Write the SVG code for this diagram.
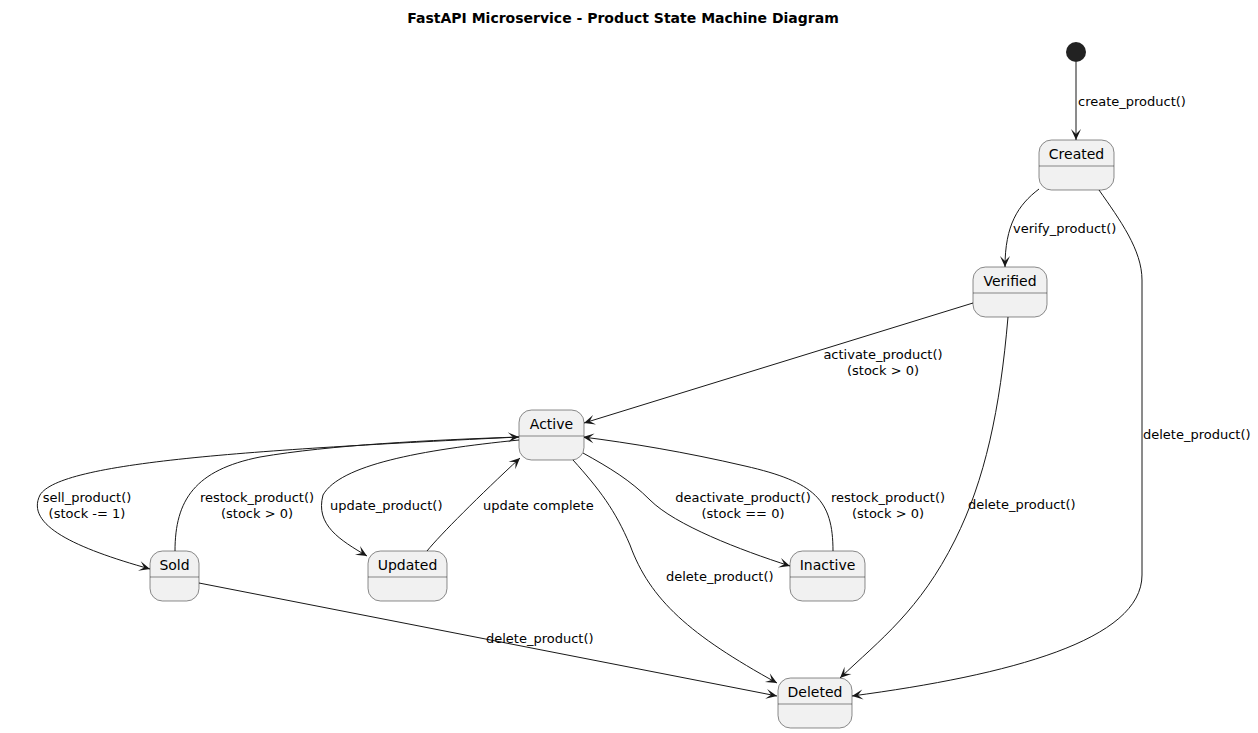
<svg xmlns="http://www.w3.org/2000/svg" width="1258" height="733" viewBox="0 0 1258 733">
<style>
.st rect{fill:#F1F1F1;stroke:#181818;stroke-width:0.5}
.st line{stroke:#181818;stroke-width:0.5}
.st text{font-family:"DejaVu Sans",sans-serif;font-size:14px;fill:#000;text-anchor:middle}
.e path{fill:none;stroke:#181818;stroke-width:1;marker-end:url(#ah)}
.lb{font-family:"DejaVu Sans",sans-serif;font-size:13px;fill:#000}
.c{text-anchor:middle}
.title{font-family:"DejaVu Sans",sans-serif;font-size:14px;font-weight:bold;text-anchor:middle}
</style>
<defs>
<marker id="ah" viewBox="-12 -6 13 12" refX="0" refY="0" markerWidth="13" markerHeight="12" markerUnits="userSpaceOnUse" orient="auto">
<path d="M0,0 L-11,-5 L-6,0 L-11,5 Z" fill="#181818"/>
</marker>
</defs>
<rect width="1258" height="733" fill="#FFFFFF"/>
<text class="title" x="623" y="23">FastAPI Microservice - Product State Machine Diagram</text>

<g id="connectors" class="e">
<path d="M1076,62 L1076,140"/>
<path d="M1039,189 C1018,205 1005,225 1005,267"/>
<path d="M1099,190 C1120,220 1142,250 1142,280 L1142,575 C1142,640 1010,675 852,696"/>
<path d="M973,303 L584,423"/>
<path d="M1008,317 C1000,410 985,480 955,540 C920,610 880,640 840,678"/>
<path d="M519,437 C250,450 60,462 40,495 C25,525 75,548 150,569"/>
<path d="M175,551 C175,500 195,470 260,457 C330,445 430,440 519,437"/>
<path d="M519,440 C420,450 340,465 323,495 C315,525 340,540 367,556"/>
<path d="M427,551 C440,535 480,495 520,458"/>
<path d="M583,453 C610,468 630,480 650,500 C675,525 740,550 790,566"/>
<path d="M833,551 C833,500 815,482 745,466 C685,452 630,443 583,437"/>
<path d="M573,460 C600,490 615,510 630,545 C650,600 690,635 777,683"/>
<path d="M199,583 L777,696"/>
</g>

<g id="labels">
<text class="lb" x="1078" y="106">create_product()</text>
<text class="lb" x="1013" y="233">verify_product()</text>
<text class="lb" x="1143" y="439">delete_product()</text>
<text class="lb c" x="883" y="359">activate_product()</text>
<text class="lb c" x="883" y="375">(stock &gt; 0)</text>
<text class="lb" x="968" y="509">delete_product()</text>
<text class="lb c" x="87" y="502">sell_product()</text>
<text class="lb c" x="87" y="518">(stock -= 1)</text>
<text class="lb c" x="257" y="502">restock_product()</text>
<text class="lb c" x="257" y="518">(stock &gt; 0)</text>
<text class="lb" x="330" y="510">update_product()</text>
<text class="lb" x="483" y="510">update complete</text>
<text class="lb c" x="743" y="502">deactivate_product()</text>
<text class="lb c" x="743" y="518">(stock == 0)</text>
<text class="lb c" x="888" y="502">restock_product()</text>
<text class="lb c" x="888" y="518">(stock &gt; 0)</text>
<text class="lb" x="666" y="581">delete_product()</text>
<text class="lb" x="486" y="643">delete_product()</text>
</g>

<g id="initial"><circle cx="1076" cy="52" r="10" fill="#222222"/></g>
<g id="Created" class="st"><rect x="1039" y="140" width="75" height="50" rx="12.5"/><line x1="1039" y1="166" x2="1114" y2="166"/><text x="1076.5" y="159">Created</text></g>
<g id="Verified" class="st"><rect x="973" y="267" width="74" height="50" rx="12.5"/><line x1="973" y1="293" x2="1047" y2="293"/><text x="1010" y="286">Verified</text></g>
<g id="Active" class="st"><rect x="519" y="410" width="65" height="50" rx="12.5"/><line x1="519" y1="436" x2="584" y2="436"/><text x="551.5" y="429">Active</text></g>
<g id="Sold" class="st"><rect x="150" y="551" width="49" height="50" rx="12.5"/><line x1="150" y1="577" x2="199" y2="577"/><text x="174.5" y="570">Sold</text></g>
<g id="Updated" class="st"><rect x="368" y="551" width="79" height="50" rx="12.5"/><line x1="368" y1="577" x2="447" y2="577"/><text x="407.5" y="570">Updated</text></g>
<g id="Inactive" class="st"><rect x="790" y="551" width="75" height="50" rx="12.5"/><line x1="790" y1="577" x2="865" y2="577"/><text x="827.5" y="570">Inactive</text></g>
<g id="Deleted" class="st"><rect x="778" y="678" width="74" height="50" rx="12.5"/><line x1="778" y1="704" x2="852" y2="704"/><text x="815" y="697">Deleted</text></g>
</svg>
